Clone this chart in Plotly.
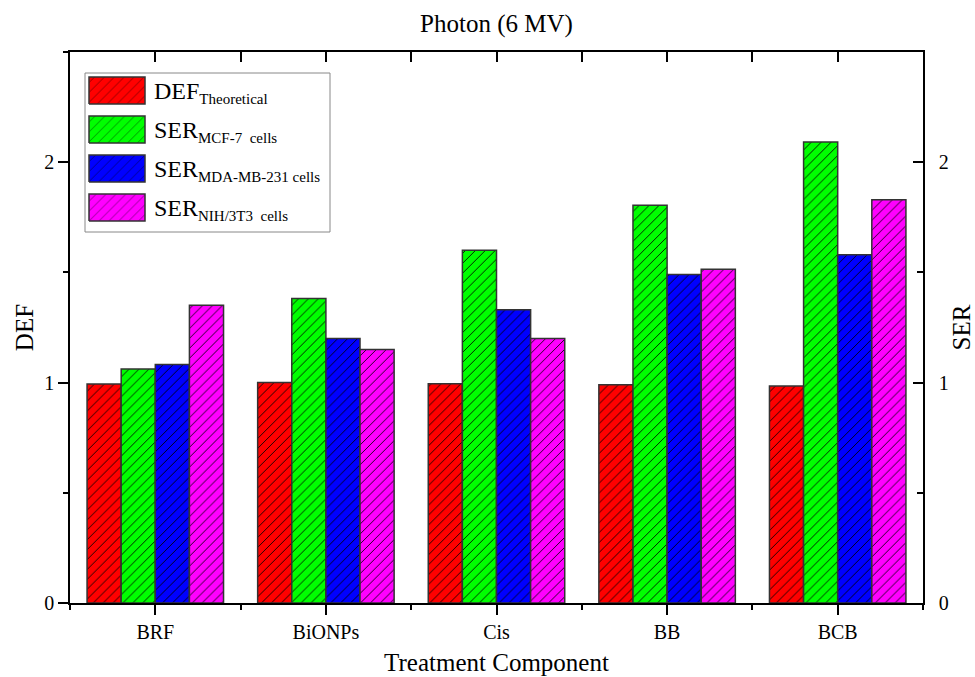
import plotly.graph_objects as go

# ---- data ----
categories = ["BRF", "BiONPs", "Cis", "BB", "BCB"]
def_theoretical = [0.994, 1.000, 0.995, 0.990, 0.985]
ser_mcf7 = [1.062, 1.382, 1.601, 1.805, 2.092]
ser_mda = [1.082, 1.200, 1.330, 1.490, 1.580]
ser_nih = [1.351, 1.150, 1.200, 1.514, 1.830]

series_values = [def_theoretical, ser_mcf7, ser_mda, ser_nih]
series_names = ["DEF Theoretical", "SER MCF-7 cells", "SER MDA-MB-231 cells", "SER NIH/3T3 cells"]
legend_main = ["DEF", "SER", "SER", "SER"]
legend_sub = ["Theoretical", "MCF-7&nbsp;&nbsp;cells", "MDA-MB-231 cells", "NIH/3T3&nbsp;&nbsp;cells"]
colors = ["#FF0000", "#00FF00", "#0000FF", "#FF00FF"]

y_ticks = [0, 1, 2]

FONT = "Liberation Serif"
xpos = list(range(len(categories)))

fig = go.Figure()
for name, vals, col in zip(series_names, series_values, colors):
    fig.add_trace(go.Bar(
        x=xpos, y=vals, name=name, showlegend=False,
        marker=dict(color=col, line=dict(color="#333333", width=1.5),
                    pattern=dict(shape="/", fgcolor="black", bgcolor=col,
                                 size=7, solidity=0.12, fillmode="replace")),
    ))

# dummy traces so the secondary axes render
fig.add_trace(go.Scatter(x=[None], y=[None], yaxis="y2", showlegend=False, hoverinfo="skip"))
fig.add_trace(go.Scatter(x=[None], y=[None], xaxis="x4", showlegend=False, hoverinfo="skip"))

# ---- custom legend (coordinates on hidden overlay axes spanning the plot area) ----
box = dict(x0=85, x1=330, y0=73, y1=232)
sw_x0, sw_x1 = 89, 145
row_top0, row_h, row_pitch = 77, 27, 39
for i, (col, main, sub) in enumerate(zip(colors, legend_main, legend_sub)):
    t = row_top0 + i * row_pitch
    b = t + row_h
    fig.add_trace(go.Scatter(
        x=[sw_x0, sw_x1, sw_x1, sw_x0, sw_x0], y=[b, b, t, t, b],
        xaxis="x3", yaxis="y3", mode="lines", fill="toself",
        fillcolor=col, line=dict(color="#333333", width=1.5),
        fillpattern=dict(shape="/", fgcolor="black", bgcolor=col, size=7, solidity=0.12),
        showlegend=False, hoverinfo="skip"))
    fig.add_annotation(
        x=152, y=(t + b) / 2 + 2, xref="x3", yref="y3", xanchor="left", yanchor="middle",
        showarrow=False,
        text=f"{main}<sub><span style='font-size:15px'>{sub}</span></sub>",
        font=dict(family=FONT, size=24, color="black"))

fig.add_shape(type="rect", xref="x3", yref="y3", layer="below",
              line=dict(color="#888888", width=1), fillcolor="rgba(0,0,0,0)", **box)

axis_common = dict(showgrid=False, zeroline=False, showline=True, linecolor="black",
                   linewidth=1.5, tickcolor="black", tickwidth=1.5, automargin=False,
                   tickfont=dict(family=FONT, size=20, color="black"))

W, H = 975, 677
fig.update_layout(
    width=W, height=H,
    margin=dict(l=70, r=W - 923, t=52, b=H - 603, autoexpand=False),
    paper_bgcolor="white", plot_bgcolor="white",
    barmode="group", bargap=0.2, bargroupgap=0,
    title=dict(text="Photon (6 MV)", x=0.5, xref="paper", xanchor="center",
               y=1 - 23 / H, yref="container", yanchor="middle", automargin=False,
               font=dict(family=FONT, size=25, color="black")),
    xaxis=dict(**axis_common, range=[-0.5, len(categories) - 0.5],
               tickmode="array", tickvals=xpos, ticktext=categories,
               ticks="outside", ticklen=10,
               minor=dict(ticks="outside", ticklen=5, tickwidth=1.5, tickcolor="black",
                          tick0=0.5, dtick=1),
               title=dict(text="Treatment Component", standoff=12,
                          font=dict(family=FONT, size=25, color="black"))),
    xaxis4=dict(**axis_common, overlaying="x", side="top", anchor="y",
                range=[-0.5, len(categories) - 0.5], tickmode="array", tickvals=xpos,
                ticks="inside", ticklen=10, showticklabels=False,
                minor=dict(ticks="inside", ticklen=10, tickwidth=1.5, tickcolor="black",
                           tick0=0.5, dtick=1)),
    yaxis=dict(**axis_common, range=[0, 2.5], tickmode="array", tickvals=y_ticks,
               ticks="outside", ticklen=10,
               minor=dict(ticks="outside", ticklen=5, tickwidth=1.5, tickcolor="black",
                          tick0=0, dtick=0.5),
               title=dict(text="DEF", standoff=4,
                          font=dict(family=FONT, size=25, color="black"))),
    yaxis2=dict(**axis_common, overlaying="y", side="right", anchor="x",
                range=[0, 2.5], tickmode="array", tickvals=y_ticks,
                ticks="inside", ticklen=10, ticklabelstandoff=10,
                minor=dict(ticks="inside", ticklen=6, tickwidth=1.5, tickcolor="black",
                           tick0=0, dtick=0.5),
                title=dict(text="SER", standoff=6,
                           font=dict(family=FONT, size=25, color="black"))),
    xaxis3=dict(overlaying="x", anchor="y3", range=[70, 923], visible=False, fixedrange=True),
    yaxis3=dict(overlaying="y", anchor="x3", range=[603, 52], visible=False, fixedrange=True),
    showlegend=False,
)

fig.write_html("out.html", config={"displayModeBar": False},
               post_script="document.body.style.margin='0';")
